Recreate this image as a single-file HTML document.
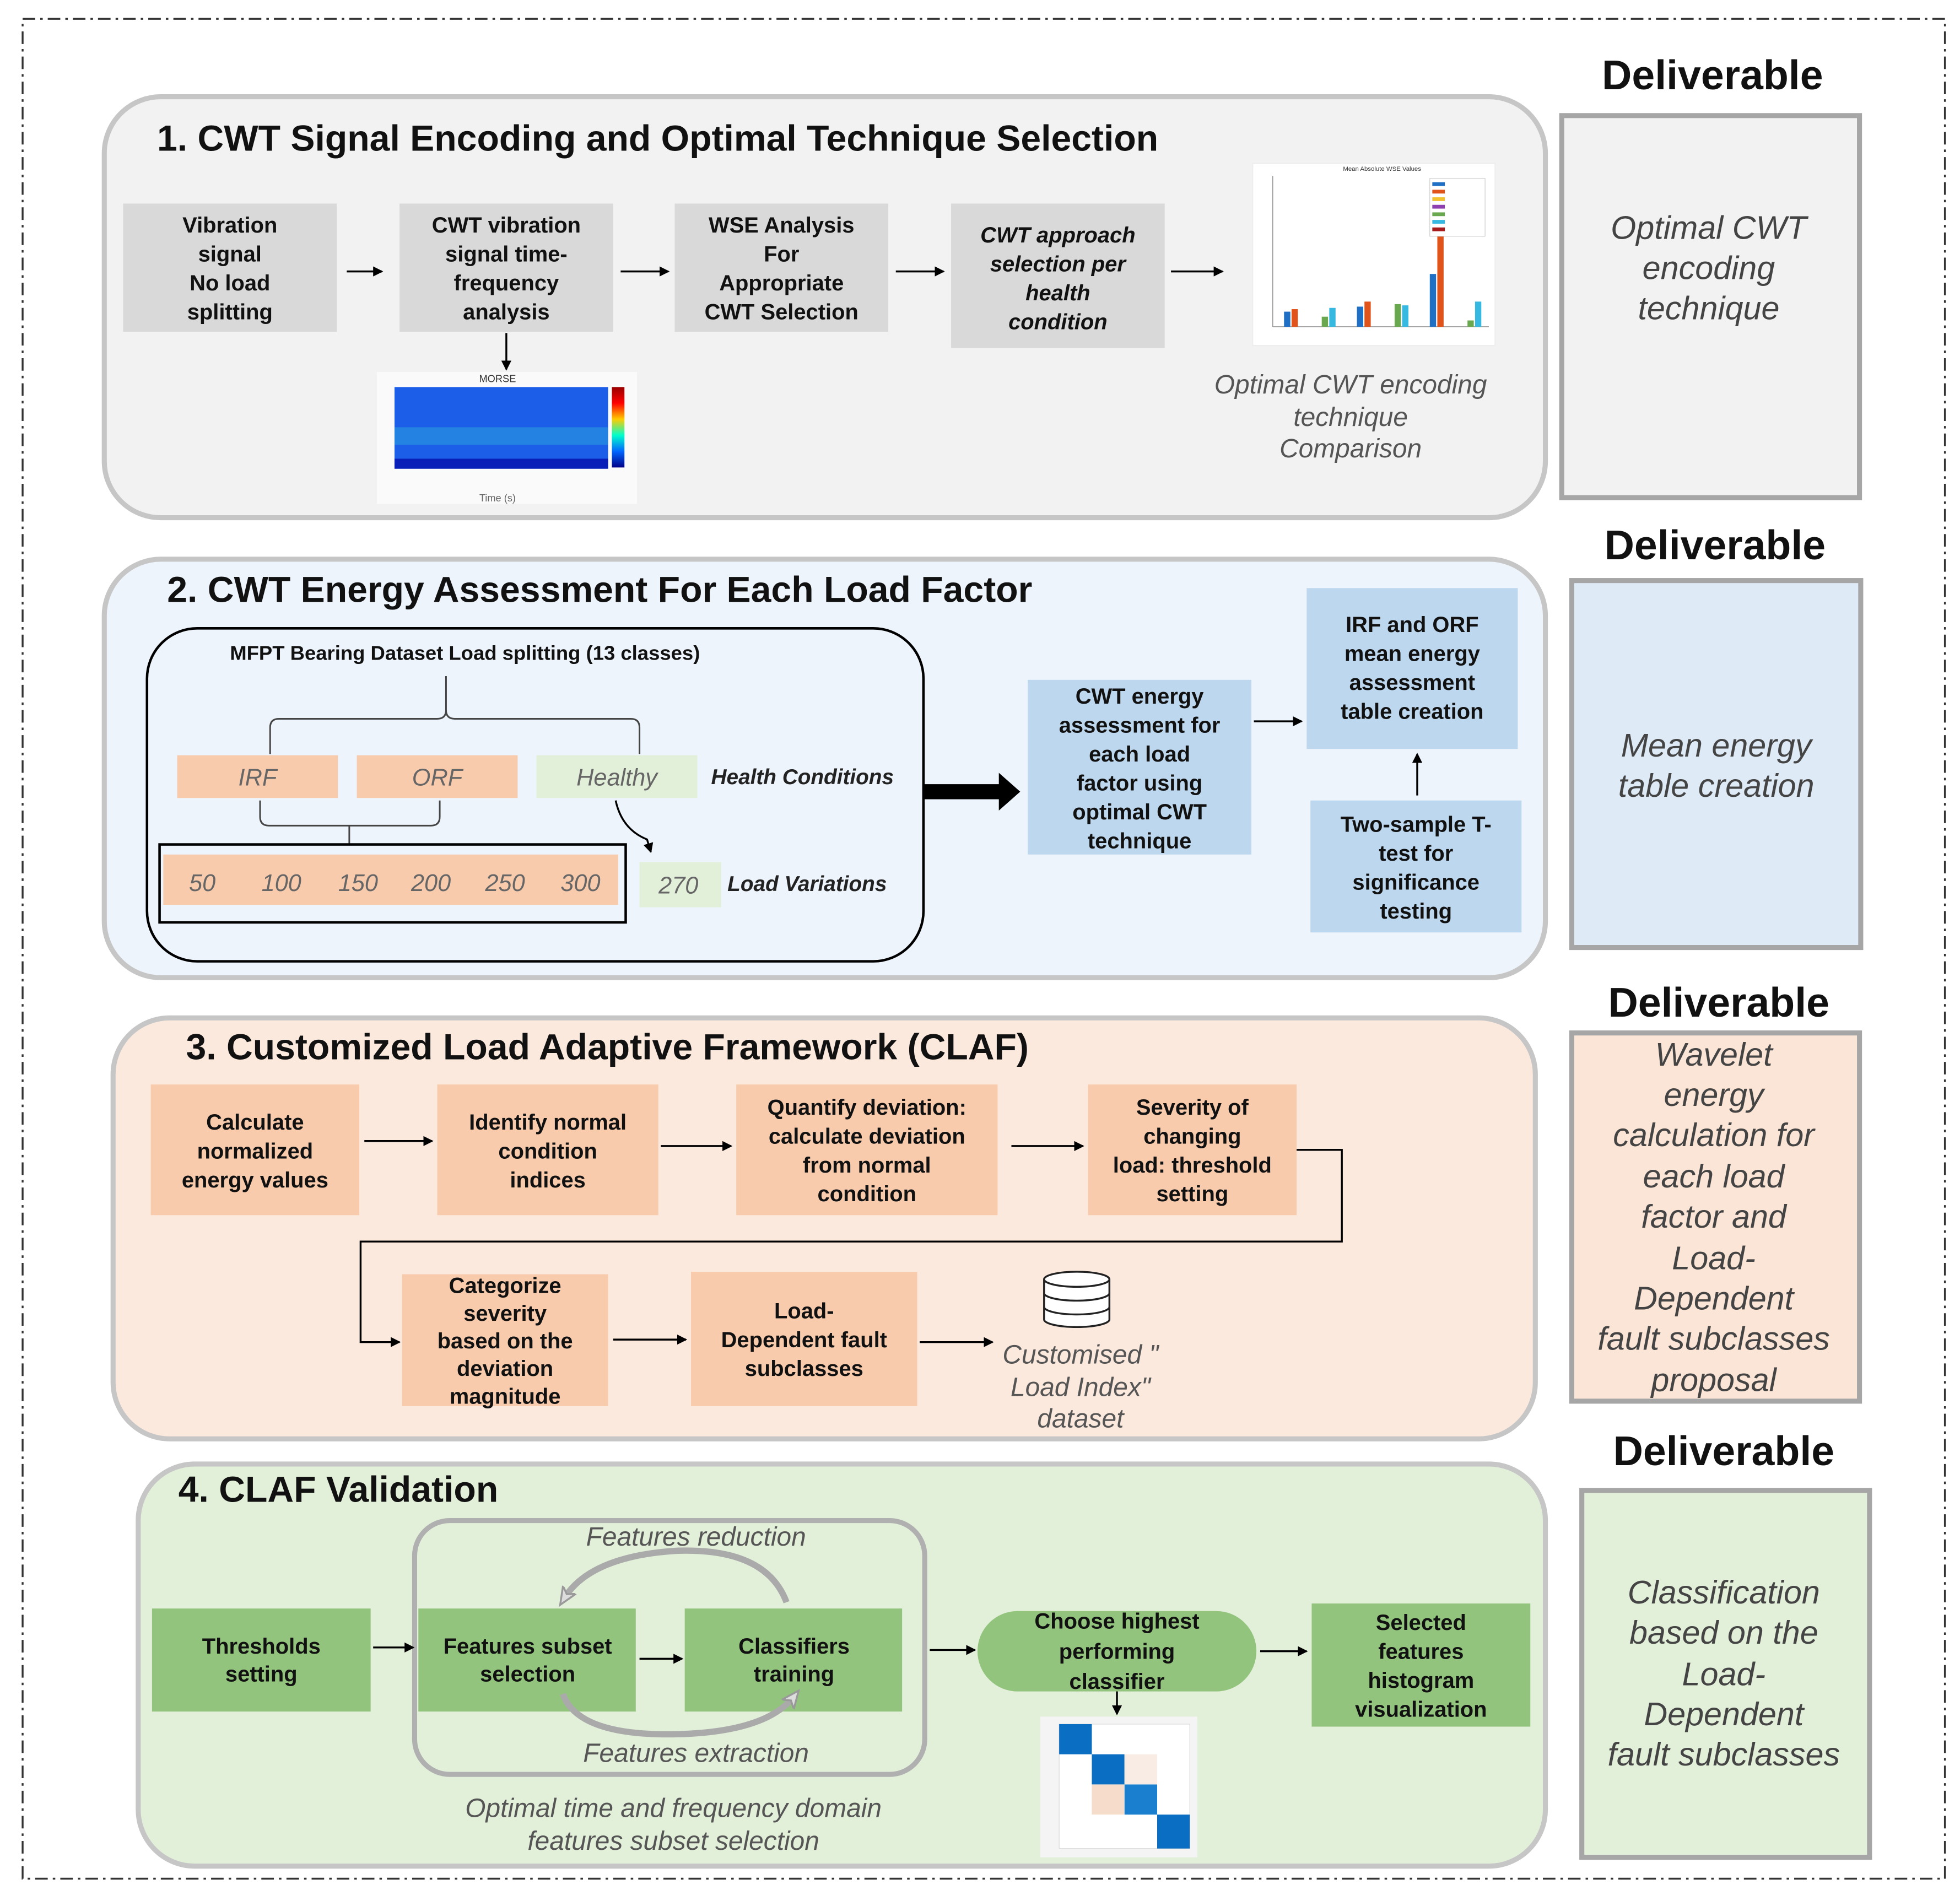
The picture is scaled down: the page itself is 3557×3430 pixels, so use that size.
<!DOCTYPE html>
<html><head><meta charset="utf-8"><style>
html,body{margin:0;padding:0;background:#fff;}
svg{display:block;}
.b{font-family:"Liberation Sans",sans-serif;font-weight:bold;font-size:17.5px;fill:#111;text-anchor:middle;}
.t{font-family:"Liberation Sans",sans-serif;font-weight:bold;font-size:29px;fill:#111;}
.d{font-family:"Liberation Sans",sans-serif;font-weight:bold;font-size:33px;fill:#111;text-anchor:middle;}
.di{font-family:"Liberation Sans",sans-serif;font-style:italic;font-size:26px;fill:#444;text-anchor:middle;}
.ci{font-family:"Liberation Sans",sans-serif;font-style:italic;font-size:21px;fill:#555;text-anchor:middle;}
.gi{font-family:"Liberation Sans",sans-serif;font-style:italic;font-size:19px;fill:#666;text-anchor:middle;}
.bi{font-family:"Liberation Sans",sans-serif;font-style:italic;font-weight:bold;font-size:17px;fill:#222;}
</style></head><body>
<svg width="3557" height="3430" viewBox="0 0 1560 1504" preserveAspectRatio="none" xmlns="http://www.w3.org/2000/svg">
<defs>
<marker id="a" markerWidth="8" markerHeight="8" refX="7" refY="4" orient="auto" markerUnits="userSpaceOnUse"><path d="M0,0 L8,4 L0,8 z" fill="#000"/></marker>
<marker id="g" markerWidth="16" markerHeight="16" refX="8" refY="8" orient="auto" markerUnits="userSpaceOnUse"><path d="M0,2 L14,8 L0,14 L4,8 z" fill="#ddd" stroke="#999" stroke-width="1.5"/></marker>
<linearGradient id="cb" x1="0" y1="0" x2="0" y2="1"><stop offset="0" stop-color="#900"/><stop offset="0.2" stop-color="#f00"/><stop offset="0.4" stop-color="#fc0"/><stop offset="0.6" stop-color="#0fc"/><stop offset="0.8" stop-color="#06f"/><stop offset="1" stop-color="#008"/></linearGradient>
</defs>
<rect x="0" y="0" width="1560" height="1504" fill="#fff"/>
<rect x="18" y="15" width="1530" height="1480" fill="none" stroke="#333" stroke-width="1.5" stroke-dasharray="10,4,2,4"/>

<!-- Section 1 -->
<rect x="83" y="77" width="1147" height="335" rx="45" fill="#f2f2f2" stroke="#c6c6c6" stroke-width="4"/>
<text class="t" x="125" y="120">1. CWT Signal Encoding and Optimal Technique Selection</text>
<rect x="98" y="162" width="170" height="102" fill="#d9d9d9"/>
<text class="b" x="183" y="185">Vibration</text><text class="b" x="183" y="208">signal</text><text class="b" x="183" y="231">No load</text><text class="b" x="183" y="254">splitting</text>
<rect x="318" y="162" width="170" height="102" fill="#d9d9d9"/>
<text class="b" x="403" y="185">CWT vibration</text><text class="b" x="403" y="208">signal time-</text><text class="b" x="403" y="231">frequency</text><text class="b" x="403" y="254">analysis</text>
<rect x="537" y="162" width="170" height="102" fill="#d9d9d9"/>
<text class="b" x="622" y="185">WSE Analysis</text><text class="b" x="622" y="208">For</text><text class="b" x="622" y="231">Appropriate</text><text class="b" x="622" y="254">CWT Selection</text>
<rect x="757" y="162" width="170" height="115" fill="#d9d9d9"/>
<g class="b" font-style="italic"><text class="b" x="842" y="193" font-style="italic">CWT approach</text><text class="b" x="842" y="216" font-style="italic">selection per</text><text class="b" x="842" y="239" font-style="italic">health</text><text class="b" x="842" y="262" font-style="italic">condition</text></g>
<g stroke="#000" stroke-width="1.5" marker-end="url(#a)">
<line x1="276" y1="216" x2="304" y2="216"/><line x1="494" y1="216" x2="532" y2="216"/><line x1="713" y1="216" x2="751" y2="216"/><line x1="932" y1="216" x2="973" y2="216"/><line x1="403" y1="265" x2="403" y2="294"/>
</g>
<!-- spectrogram -->
<rect x="300" y="296" width="207" height="105" fill="#fafafa"/>
<rect x="314" y="308" width="170" height="65" fill="#1d5ee8"/>
<rect x="314" y="340" width="170" height="14" fill="#2a9be0" opacity="0.6"/>
<rect x="314" y="365" width="170" height="8" fill="#0a1fb8"/>
<rect x="487" y="308" width="10" height="64" fill="url(#cb)"/>
<text x="396" y="304" font-family="Liberation Sans" font-size="8" text-anchor="middle" fill="#333">MORSE</text>
<text x="396" y="399" font-family="Liberation Sans" font-size="8" text-anchor="middle" fill="#666">Time (s)</text>
<!-- bar chart -->
<rect x="997" y="130" width="193" height="145" fill="#fff" stroke="#eee"/>
<line x1="1013" y1="140" x2="1013" y2="260" stroke="#999" stroke-width="0.7"/><line x1="1013" y1="260" x2="1185" y2="260" stroke="#999" stroke-width="0.7"/>
<text x="1100" y="136" font-family="Liberation Sans" font-size="5" text-anchor="middle" fill="#333">Mean Absolute WSE Values</text>
<g>
<rect x="1022" y="248" width="5" height="12" fill="#1f6fc4"/><rect x="1028" y="246" width="5" height="14" fill="#e0541b"/><rect x="1052" y="252" width="5" height="8" fill="#6aa84f"/><rect x="1058" y="245" width="5" height="15" fill="#36b8e0"/>
<rect x="1080" y="244" width="5" height="16" fill="#1f6fc4"/><rect x="1086" y="240" width="5" height="20" fill="#e0541b"/><rect x="1110" y="242" width="5" height="18" fill="#6aa84f"/><rect x="1116" y="243" width="5" height="17" fill="#36b8e0"/>
<rect x="1138" y="218" width="5" height="42" fill="#1f6fc4"/><rect x="1144" y="150" width="5" height="110" fill="#e0541b"/><rect x="1168" y="255" width="5" height="5" fill="#6aa84f"/><rect x="1174" y="240" width="5" height="20" fill="#36b8e0"/>
<rect x="1138" y="142" width="44" height="46" fill="#fff" stroke="#ccc" stroke-width="0.5"/>
<rect x="1140" y="145" width="10" height="3" fill="#1f6fc4"/><rect x="1140" y="151" width="10" height="3" fill="#e0541b"/><rect x="1140" y="157" width="10" height="3" fill="#f1c232"/><rect x="1140" y="163" width="10" height="3" fill="#8e3fb0"/><rect x="1140" y="169" width="10" height="3" fill="#6aa84f"/><rect x="1140" y="175" width="10" height="3" fill="#36b8e0"/><rect x="1140" y="181" width="10" height="3" fill="#a61c1c"/>
</g>
<text class="ci" x="1075" y="313">Optimal CWT encoding</text><text class="ci" x="1075" y="339">technique</text><text class="ci" x="1075" y="364">Comparison</text>
<text class="d" x="1363" y="71">Deliverable</text>
<rect x="1243" y="92" width="237" height="304" fill="#f2f2f2" stroke="#a6a6a6" stroke-width="4"/>
<text class="di" x="1360" y="190">Optimal CWT</text><text class="di" x="1360" y="222">encoding</text><text class="di" x="1360" y="254">technique</text>

<!-- Section 2 -->
<rect x="83" y="445" width="1147" height="333" rx="45" fill="#eef4fb" stroke="#c6c6c6" stroke-width="4"/>
<text class="t" x="133" y="479">2. CWT Energy Assessment For Each Load Factor</text>
<rect x="117" y="500" width="618" height="265" rx="40" fill="none" stroke="#000" stroke-width="2"/>
<text x="183" y="525" font-family="Liberation Sans" font-weight="bold" font-size="16" fill="#111">MFPT Bearing Dataset Load splitting  (13 classes)</text>
<g fill="none" stroke="#444" stroke-width="1.3">
<path d="M355,538 L355,565 Q355,572 348,572 L222,572 Q215,572 215,579 L215,600"/>
<path d="M355,565 Q355,572 362,572 L502,572 Q509,572 509,579 L509,600"/>
<path d="M207,637 L207,650 Q207,657 214,657 L343,657 Q350,657 350,650 L350,637"/>
<line x1="278" y1="657" x2="278" y2="672"/>
</g>
<rect x="141" y="601" width="128" height="34" fill="#f9cbad"/><text class="gi" x="205" y="625">IRF</text>
<rect x="284" y="601" width="128" height="34" fill="#f9cbad"/><text class="gi" x="348" y="625">ORF</text>
<rect x="427" y="601" width="128" height="34" fill="#e2efd9"/><text class="gi" x="491" y="625">Healthy</text>
<text class="bi" x="566" y="624">Health Conditions</text>
<rect x="127" y="672" width="371" height="62" fill="none" stroke="#000" stroke-width="2"/>
<rect x="130" y="680" width="362" height="40" fill="#f9cbad"/>
<g class="gi"><text class="gi" x="161" y="709">50</text><text class="gi" x="224" y="709">100</text><text class="gi" x="285" y="709">150</text><text class="gi" x="343" y="709">200</text><text class="gi" x="402" y="709">250</text><text class="gi" x="462" y="709">300</text></g>
<path d="M490,637 Q495,660 515,668 L518,678" fill="none" stroke="#000" stroke-width="1.5" marker-end="url(#a)"/>
<rect x="509" y="686" width="65" height="36" fill="#e2efd9"/><text class="gi" x="540" y="711">270</text>
<text class="bi" x="579" y="709">Load Variations</text>
<path d="M735,624 L795,624 L795,615 L812,630 L795,645 L795,636 L735,636 z" fill="#000"/>
<rect x="818" y="541" width="178" height="139" fill="#bdd7ee"/>
<text class="b" x="907" y="560">CWT energy</text><text class="b" x="907" y="583">assessment for</text><text class="b" x="907" y="606">each load</text><text class="b" x="907" y="629">factor using</text><text class="b" x="907" y="652">optimal CWT</text><text class="b" x="907" y="675">technique</text>
<rect x="1040" y="468" width="168" height="128" fill="#bdd7ee"/>
<text class="b" x="1124" y="503">IRF and ORF</text><text class="b" x="1124" y="526">mean energy</text><text class="b" x="1124" y="549">assessment</text><text class="b" x="1124" y="572">table creation</text>
<rect x="1043" y="637" width="168" height="105" fill="#bdd7ee"/>
<text class="b" x="1127" y="662">Two-sample T-</text><text class="b" x="1127" y="685">test for</text><text class="b" x="1127" y="708">significance</text><text class="b" x="1127" y="731">testing</text>
<g stroke="#000" stroke-width="1.5" marker-end="url(#a)"><line x1="998" y1="574" x2="1036" y2="574"/><line x1="1128" y1="633" x2="1128" y2="600"/></g>
<text class="d" x="1365" y="445">Deliverable</text>
<rect x="1251" y="462" width="230" height="292" fill="#deeaf6" stroke="#a6a6a6" stroke-width="4"/>
<text class="di" x="1366" y="602">Mean energy</text><text class="di" x="1366" y="634">table creation</text>

<!-- Section 3 -->
<rect x="90" y="810" width="1132" height="335" rx="45" fill="#fce9dd" stroke="#c6c6c6" stroke-width="4"/>
<text class="t" x="148" y="843">3. Customized Load Adaptive Framework (CLAF)</text>
<rect x="120" y="863" width="166" height="104" fill="#f8cbad"/>
<text class="b" x="203" y="899">Calculate</text><text class="b" x="203" y="922">normalized</text><text class="b" x="203" y="945">energy values</text>
<rect x="348" y="863" width="176" height="104" fill="#f8cbad"/>
<text class="b" x="436" y="899">Identify normal</text><text class="b" x="436" y="922">condition</text><text class="b" x="436" y="945">indices</text>
<rect x="586" y="863" width="208" height="104" fill="#f8cbad"/>
<text class="b" x="690" y="887">Quantify deviation:</text><text class="b" x="690" y="910">calculate deviation</text><text class="b" x="690" y="933">from normal</text><text class="b" x="690" y="956">condition</text>
<rect x="866" y="863" width="166" height="104" fill="#f8cbad"/>
<text class="b" x="949" y="887">Severity of</text><text class="b" x="949" y="910">changing</text><text class="b" x="949" y="933">load: threshold</text><text class="b" x="949" y="956">setting</text>
<rect x="320" y="1014" width="164" height="105" fill="#f8cbad"/>
<text class="b" x="402" y="1029">Categorize</text><text class="b" x="402" y="1051">severity</text><text class="b" x="402" y="1073">based on the</text><text class="b" x="402" y="1095">deviation</text><text class="b" x="402" y="1117">magnitude</text>
<rect x="550" y="1012" width="180" height="107" fill="#f8cbad"/>
<text class="b" x="640" y="1049">Load-</text><text class="b" x="640" y="1072">Dependent fault</text><text class="b" x="640" y="1095">subclasses</text>
<g stroke="#000" stroke-width="1.5" fill="none" marker-end="url(#a)">
<line x1="290" y1="908" x2="344" y2="908"/><line x1="526" y1="912" x2="582" y2="912"/><line x1="805" y1="912" x2="862" y2="912"/>
<path d="M1032,915 L1068,915 L1068,988 L287,988 L287,1068 L318,1068"/>
<line x1="488" y1="1066" x2="546" y2="1066"/><line x1="732" y1="1068" x2="790" y2="1068"/>
</g>
<g fill="#fff" stroke="#222" stroke-width="1.5">
<path d="M831,1018 L831,1050 A26,6 0 0 0 883,1050 L883,1018"/>
<ellipse cx="857" cy="1018" rx="26" ry="6"/>
<path d="M831,1029 A26,6 0 0 0 883,1029 M831,1040 A26,6 0 0 0 883,1040" fill="none"/>
</g>
<text class="ci" x="860" y="1085">Customised "</text><text class="ci" x="860" y="1111">Load Index"</text><text class="ci" x="860" y="1136">dataset</text>
<text class="d" x="1368" y="809">Deliverable</text>
<rect x="1251" y="822" width="229" height="293" fill="#fbe5d6" stroke="#a6a6a6" stroke-width="4"/>
<g class="di"><text class="di" x="1364" y="848">Wavelet</text><text class="di" x="1364" y="880">energy</text><text class="di" x="1364" y="912">calculation for</text><text class="di" x="1364" y="945">each load</text><text class="di" x="1364" y="977">factor and</text><text class="di" x="1364" y="1010">Load-</text><text class="di" x="1364" y="1042">Dependent</text><text class="di" x="1364" y="1074">fault subclasses</text><text class="di" x="1364" y="1107">proposal</text></g>

<!-- Section 4 -->
<rect x="110" y="1165" width="1120" height="320" rx="45" fill="#e2efd9" stroke="#c6c6c6" stroke-width="4"/>
<text class="t" x="142" y="1195">4. CLAF Validation</text>
<rect x="121" y="1280" width="174" height="82" fill="#93c47d"/>
<text class="b" x="208" y="1316" font-size="16">Thresholds</text><text class="b" x="208" y="1338" font-size="16">setting</text>
<rect x="330" y="1210" width="406" height="202" rx="28" fill="none" stroke="#b0b0b0" stroke-width="4"/>
<rect x="333" y="1280" width="173" height="82" fill="#93c47d"/>
<text class="b" x="420" y="1316" font-size="16">Features subset</text><text class="b" x="420" y="1338" font-size="16">selection</text>
<rect x="545" y="1280" width="173" height="82" fill="#93c47d"/>
<text class="b" x="632" y="1316" font-size="16">Classifiers</text><text class="b" x="632" y="1338" font-size="16">training</text>
<g fill="none" stroke-width="1.5" marker-end="url(#a)" stroke="#000">
<line x1="297" y1="1311" x2="329" y2="1311"/><line x1="509" y1="1320" x2="543" y2="1320"/><line x1="740" y1="1313" x2="776" y2="1313"/><line x1="1003" y1="1314" x2="1040" y2="1314"/><line x1="889" y1="1345" x2="889" y2="1364"/>
</g>
<path d="M626,1275 Q610,1232 540,1234 Q470,1238 449,1272" fill="none" stroke="#aaa" stroke-width="5" marker-end="url(#g)"/>
<path d="M448,1348 Q460,1382 540,1380 Q610,1378 632,1350" fill="none" stroke="#aaa" stroke-width="5" marker-end="url(#g)"/>
<text class="ci" x="554" y="1230">Features reduction</text>
<text class="ci" x="554" y="1402">Features extraction</text>
<rect x="778" y="1282" width="222" height="64" rx="32" fill="#93c47d"/>
<text class="b" x="889" y="1296" font-size="19">Choose highest</text><text class="b" x="889" y="1320" font-size="19">performing</text><text class="b" x="889" y="1344" font-size="19">classifier</text>
<rect x="1044" y="1276" width="174" height="98" fill="#93c47d"/>
<text class="b" x="1131" y="1297">Selected</text><text class="b" x="1131" y="1320">features</text><text class="b" x="1131" y="1343">histogram</text><text class="b" x="1131" y="1366">visualization</text>
<rect x="828" y="1366" width="125" height="112" fill="#f4f4f4"/>
<rect x="843" y="1372" width="104" height="99" fill="#fff" stroke="#ddd" stroke-width="0.6"/>
<rect x="843" y="1372" width="26" height="24" fill="#0a6fc2"/><rect x="869" y="1396" width="26" height="24" fill="#0a6fc2"/><rect x="895" y="1420" width="26" height="24" fill="#1a7fcf"/><rect x="921" y="1444" width="26" height="27" fill="#0a6fc2"/>
<rect x="869" y="1420" width="26" height="24" fill="#f6dccb"/><rect x="895" y="1396" width="26" height="24" fill="#f8ece4"/>
<text class="ci" x="536" y="1446">Optimal time and frequency domain</text><text class="ci" x="536" y="1472">features subset selection</text>
<text class="d" x="1372" y="1166">Deliverable</text>
<rect x="1259" y="1186" width="229" height="292" fill="#e2efd9" stroke="#a6a6a6" stroke-width="4"/>
<text class="di" x="1372" y="1276">Classification</text><text class="di" x="1372" y="1308">based on the</text><text class="di" x="1372" y="1341">Load-</text><text class="di" x="1372" y="1373">Dependent</text><text class="di" x="1372" y="1405">fault subclasses</text>
</svg>
</body></html>
